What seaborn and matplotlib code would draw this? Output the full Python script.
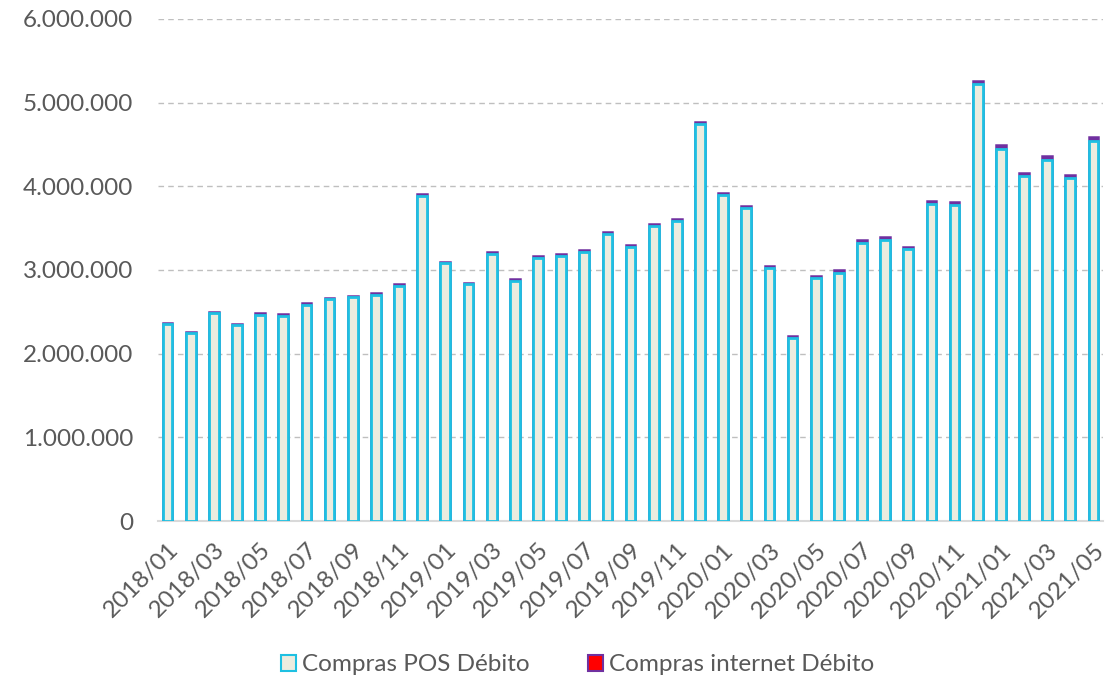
import numpy as np
import pandas as pd
import matplotlib
matplotlib.use('Agg')
import matplotlib.pyplot as plt
import seaborn as sns
from matplotlib.patches import Patch
from matplotlib.ticker import FuncFormatter

# --- data ---
months = [f"{y}/{m:02d}" for y in (2018, 2019, 2020, 2021) for m in range(1, 13)][:41]

totals = [2.37, 2.26, 2.50, 2.36, 2.48, 2.47, 2.60, 2.67, 2.69, 2.72, 2.83, 3.91,
          3.10, 2.85, 3.21, 2.89, 3.17, 3.19, 3.24, 3.45, 3.30, 3.55, 3.61, 4.77,
          3.92, 3.77, 3.05, 2.21, 2.93, 3.00, 3.36, 3.39, 3.28, 3.83, 3.81, 5.26,
          4.49, 4.16, 4.36, 4.14, 4.59]

internet = [16, 16, 17, 16, 17, 17, 18, 18, 18, 19, 19, 21,
            21, 20, 22, 21, 22, 22, 23, 24, 24, 25, 26, 28,
            29, 29, 29, 27, 31, 31, 33, 33, 33, 36, 38, 42,
            43, 42, 45, 43, 47]

totals = np.array(totals) * 1_000_000
internet = np.array(internet) * 1_000
pos = totals - internet

df = pd.DataFrame({'mes': months, 'pos': pos, 'total': totals})

# --- style ---
sns.set_style('white')
plt.rcParams['font.family'] = ['Lato', 'DejaVu Sans']
txt = '#595959'

fig = plt.figure(figsize=(11.15, 6.77), dpi=100)
ax = fig.add_axes([0.142, 0.2304, 0.847, 0.7416])

# total bar first (internet segment shows on top), then POS drawn over it
sns.barplot(data=df, x='mes', y='total', color='#7030a0', edgecolor='#7030a0',
            linewidth=1.8, width=0.42, ax=ax, zorder=3, saturation=1)
sns.barplot(data=df, x='mes', y='pos', color='#ececdf', edgecolor='#1ec0e2',
            linewidth=2, width=0.42, ax=ax, zorder=4, saturation=1)

ax.set_ylim(0, 6_000_000)
ax.set_xlim(-0.4, len(months) - 0.6)
ax.set_yticks(np.arange(0, 6_000_001, 1_000_000))
ax.yaxis.set_major_formatter(FuncFormatter(lambda v, _: f"{int(v):,}".replace(',', '.')))
ax.grid(axis='y', color='#bfbfbf', linestyle=(0, (4, 3)), linewidth=1, zorder=0)
ax.set_axisbelow(True)

ax.set_xticks(range(0, len(months), 2))
ax.set_xticklabels(months[::2], rotation=45, ha='right', rotation_mode='anchor')
ax.set_xlabel('')
ax.set_ylabel('')
ax.tick_params(axis='both', colors=txt, labelsize=17.5, length=0, pad=6)
ax.tick_params(axis='x', pad=13)
ax.tick_params(axis='y', pad=18)

for s in ('top', 'right', 'left'):
    ax.spines[s].set_visible(False)
ax.spines['bottom'].set_color('#d9d9d9')
ax.spines['bottom'].set_linewidth(1.5)

handles = [Patch(facecolor='#ececdf', edgecolor='#1ec0e2', linewidth=1.5, label='Compras POS Débito'),
           Patch(facecolor='#ff0000', edgecolor='#7030a0', linewidth=1.5, label='Compras internet Débito')]
fig.legend(handles=handles, loc='lower center', bbox_to_anchor=(0.518, -0.03), ncol=2,
           frameon=False, fontsize=17.5, labelcolor=txt, handlelength=0.6, handleheight=0.6,
           handletextpad=0.25, columnspacing=2.4)

fig.savefig('out.png', dpi=100)
